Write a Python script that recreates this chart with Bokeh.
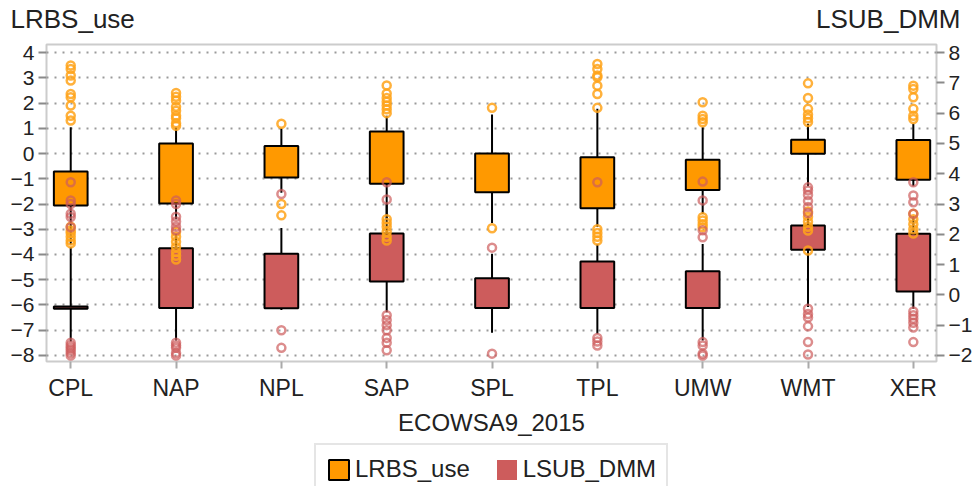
from bokeh.plotting import figure
from bokeh.models import (Range1d, LinearAxis, FixedTicker, Legend, LegendItem, Title,
                          ColumnDataSource)
from bokeh.layouts import column
from bokeh.embed import file_html
from bokeh.resources import INLINE

categories = ["CPL", "NAP", "NPL", "SAP", "SPL", "TPL", "UMW", "WMT", "XER"]

# LRBS_use (left axis)
lrbs_q1 = [-2.06, -1.98, -0.95, -1.20, -1.53, -2.17, -1.44, -0.01, -1.04]
lrbs_med = [-1.35, -0.47, -0.41, 0.08, -0.96, -1.27, -0.80, 0.36, -0.08]
lrbs_q3 = [-0.71, 0.40, 0.30, 0.87, 0.00, -0.15, -0.25, 0.55, 0.54]
lrbs_upper = [1.04, 1.03, 1.00, 1.50, 1.55, 1.77, 1.04, 1.18, 1.18]
lrbs_lower = [-3.6, -2.6, -1.55, -2.6, -2.75, -2.9, -2.4, -1.3, -1.3]
lrbs_outliers = [
    [1.31, 1.5, 1.9, 2.23, 2.36, 2.89, 3.09, 3.35, 3.49, -2.9, -3.05, -3.15, -3.3, -3.45, -3.56],
    [1.1, 1.2, 1.4, 1.5, 1.7, 1.85, 2.1, 2.25, 2.4, -3.1, -3.3, -3.5, -3.7, -3.9, -4.05, -4.2],
    [1.18, -2.0, -2.45],
    [1.6, 1.75, 1.9, 2.05, 2.2, 2.38, 2.7, -2.6, -2.75, -2.9, -3.1, -3.3, -3.45],
    [1.81, -2.96],
    [1.81, 2.36, 2.69, 3.02, 3.09, 3.35, 3.55, -3.0, -3.15, -3.3, -3.45],
    [1.24, 1.37, 1.5, 2.03, -2.52, -2.65, -2.8, -2.92],
    [1.25, 1.4, 1.55, 1.77, 2.2, 2.78, -2.3, -2.5, -2.7, -2.9, -3.05, -3.84],
    [1.37, 1.5, 1.77, 2.23, 2.56, 2.69, -2.39, -2.6, -2.8, -3.0, -3.17],
]

# LSUB_DMM (right axis)
lsub_q1 = [-0.46, -0.43, -0.44, 0.44, -0.43, -0.43, -0.43, 1.49, 0.11]
lsub_med = [-0.42, 0.78, 0.78, 1.37, -0.43, -0.04, -0.29, 2.02, 1.30]
lsub_q3 = [-0.38, 1.54, 1.36, 2.03, 0.55, 1.10, 0.78, 2.29, 2.02]
lsub_upper = [1.58, 2.00, 2.21, 3.00, 1.36, 1.67, 1.68, 2.60, 2.60]
lsub_lower = [-1.54, -1.51, -0.50, -0.57, -1.25, -1.28, -1.51, -0.40, -0.46]
lsub_outliers = [
    [3.72, 3.12, 3.0, 2.68, 2.57, 2.23, -1.58, -1.67, -1.75, -1.83, -1.92, -2.0],
    [3.12, 3.0, 2.58, 2.42, 2.25, 2.13, -1.58, -1.67, -1.75, -1.92, -2.0],
    [3.33, -1.17, -1.75],
    [3.72, 3.15, -0.67, -0.83, -1.0, -1.17, -1.42, -1.58, -1.83],
    [1.56, -1.94],
    [3.72, -1.42, -1.54, -1.67],
    [3.74, 3.12, 2.13, 1.90, -1.56, -1.67, -1.94, -2.0],
    [2.7, 2.9, 3.1, 3.3, 3.45, 3.55, -0.46, -0.63, -0.75, -1.04, -1.56, -1.97],
    [3.72, 3.28, 3.06, 2.68, -0.55, -0.67, -0.79, -0.92, -1.08, -1.56],
]

left_ticks = list(range(-8, 5))
right_ticks = list(range(-2, 9))

ORANGE = "#FF9900"
RED = "#CD5C5C"
TEXT = "#222222"
FONT = "Liberation Sans"
BOX_W = 0.32
W = 968

xs = list(range(len(categories)))


def blank(fig):
    fig.outline_line_color = None
    fig.xgrid.visible = False
    fig.ygrid.visible = False


# ---- header strip with the two axis titles (both on one line) ----
top = figure(width=W, height=36, output_backend="svg", toolbar_location=None,
             x_range=Range1d(0, 1), y_range=Range1d(0, 1),
             min_border=0, min_border_top=15, x_axis_location=None, y_axis_location=None)
blank(top)
t_left = Title(text="LRBS_use", align="left", offset=-36, standoff=-37,
               text_font=FONT, text_font_size="26px", text_font_style="normal",
               text_color=TEXT)
t_right = Title(text="LSUB_DMM", align="right", offset=-31, standoff=-37,
                text_font=FONT, text_font_size="26px", text_font_style="normal",
                text_color=TEXT)
top.add_layout(t_left, "above")
top.add_layout(t_right, "above")

# ---- main chart ----
p = figure(width=W, height=401, frame_width=890, frame_height=317,
           output_backend="svg", toolbar_location=None,
           x_range=Range1d(-0.23, 8.22), y_range=Range1d(-8.24, 4.32),
           min_border_left=46, min_border_right=32, min_border_top=8, min_border_bottom=76)
p.extra_y_ranges = {"right": Range1d(-2.2, 8.267)}

p.outline_line_color = "#cccccc"
p.outline_line_width = 2
p.xgrid.grid_line_color = None
p.ygrid.grid_line_color = "#9a9a9a"
p.ygrid.grid_line_dash = "2 6"
p.ygrid.grid_line_width = 2
p.ygrid.ticker = FixedTicker(ticks=left_ticks)

p.xaxis.ticker = FixedTicker(ticks=xs)
p.xaxis.major_label_overrides = {i: c for i, c in enumerate(categories)}
p.xaxis.axis_label = "ECOWSA9_2015"
p.yaxis.ticker = FixedTicker(ticks=left_ticks)

ry = LinearAxis(y_range_name="right", ticker=FixedTicker(ticks=right_ticks))
p.add_layout(ry, "right")

for ax in [p.xaxis[0], p.yaxis[0], ry]:
    ax.axis_line_color = None
    ax.minor_tick_line_color = None
    ax.major_tick_in = 0
    ax.major_tick_out = 8
    ax.major_tick_line_width = 2
    ax.major_tick_line_color = "#8a8a8a"
    ax.major_label_text_font = FONT
    ax.major_label_text_color = TEXT
    ax.major_label_standoff = 4
p.xaxis.major_label_text_font_size = "23px"
p.xaxis.major_tick_out = 7
p.xaxis.major_tick_line_color = "#aaaaaa"
p.xaxis.major_label_standoff = 6
p.xaxis.axis_label_text_font = FONT
p.xaxis.axis_label_text_font_size = "24px"
p.xaxis.axis_label_text_font_style = "normal"
p.xaxis.axis_label_text_color = TEXT
p.xaxis.axis_label_standoff = 5
p.yaxis[0].major_label_text_font_size = "21px"
ry.major_label_text_font_size = "21px"

osrc = ColumnDataSource(dict(x=xs, q1=lrbs_q1, med=lrbs_med, q3=lrbs_q3, up=lrbs_upper, lo=lrbs_lower))
rsrc = ColumnDataSource(dict(x=xs, q1=lsub_q1, med=lsub_med, q3=lsub_q3, up=lsub_upper, lo=lsub_lower))

# whiskers
p.segment(x0="x", y0="q3", x1="x", y1="up", source=osrc, line_color="black", line_width=2)
p.segment(x0="x", y0="q1", x1="x", y1="lo", source=osrc, line_color="black", line_width=2)
p.segment(x0="x", y0="q3", x1="x", y1="up", source=rsrc, line_color="black", line_width=2,
          y_range_name="right")
p.segment(x0="x", y0="q1", x1="x", y1="lo", source=rsrc, line_color="black", line_width=2,
          y_range_name="right")

# boxes + medians
p.vbar(x="x", bottom="q1", top="q3", width=BOX_W, source=osrc,
       fill_color=ORANGE, line_color="black", line_width=2)
p.rect(x="x", y="med", width=BOX_W, height=0, source=osrc, line_color="black", line_width=2)
p.vbar(x="x", bottom="q1", top="q3", width=BOX_W, source=rsrc,
       fill_color=RED, line_color="black", line_width=2, y_range_name="right")
p.rect(x="x", y="med", width=BOX_W, height=0, source=rsrc, line_color="black", line_width=2,
       y_range_name="right")

# outliers
ox, oy = [], []
for i, vals in enumerate(lrbs_outliers):
    ox += [i] * len(vals)
    oy += vals
rx, ryv = [], []
for i, vals in enumerate(lsub_outliers):
    rx += [i] * len(vals)
    ryv += vals

p.scatter(x=ox, y=oy, size=8, marker="circle", fill_color=None, line_color="#FFA31A",
          line_width=2.5, line_alpha=0.85)
p.scatter(x=rx, y=ryv, size=8, marker="circle", fill_color=None, line_color=RED,
          line_width=2.5, line_alpha=0.7, y_range_name="right")

# ---- legend strip (its key glyphs come from the same box data, kept out of view) ----
leg = figure(width=W, height=49, output_backend="svg", toolbar_location=None,
             x_range=Range1d(100, 101), y_range=Range1d(100, 101),
             min_border=0, x_axis_location=None, y_axis_location=None)
blank(leg)
lo_r = leg.vbar(x="x", bottom="q1", top="q3", width=BOX_W, source=osrc,
                fill_color=ORANGE, line_color="black", line_width=2)
lr_r = leg.vbar(x="x", bottom="q1", top="q3", width=BOX_W, source=rsrc,
                fill_color=RED, line_color=None)
legend = Legend(items=[LegendItem(label="LRBS_use", renderers=[lo_r]),
                       LegendItem(label="LSUB_DMM", renderers=[lr_r])],
                orientation="horizontal", location=(268, -8))
legend.label_text_font = FONT
legend.label_text_font_size = "24px"
legend.label_text_color = TEXT
legend.glyph_width = 25
legend.glyph_height = 25
legend.label_standoff = 4
legend.spacing = 24
legend.padding = 10
legend.margin = 0
legend.border_line_color = "#cccccc"
legend.border_line_width = 2
leg.add_layout(legend)

layout = column(top, p, leg, spacing=0)
open("out.html", "w").write(file_html(layout, INLINE))
